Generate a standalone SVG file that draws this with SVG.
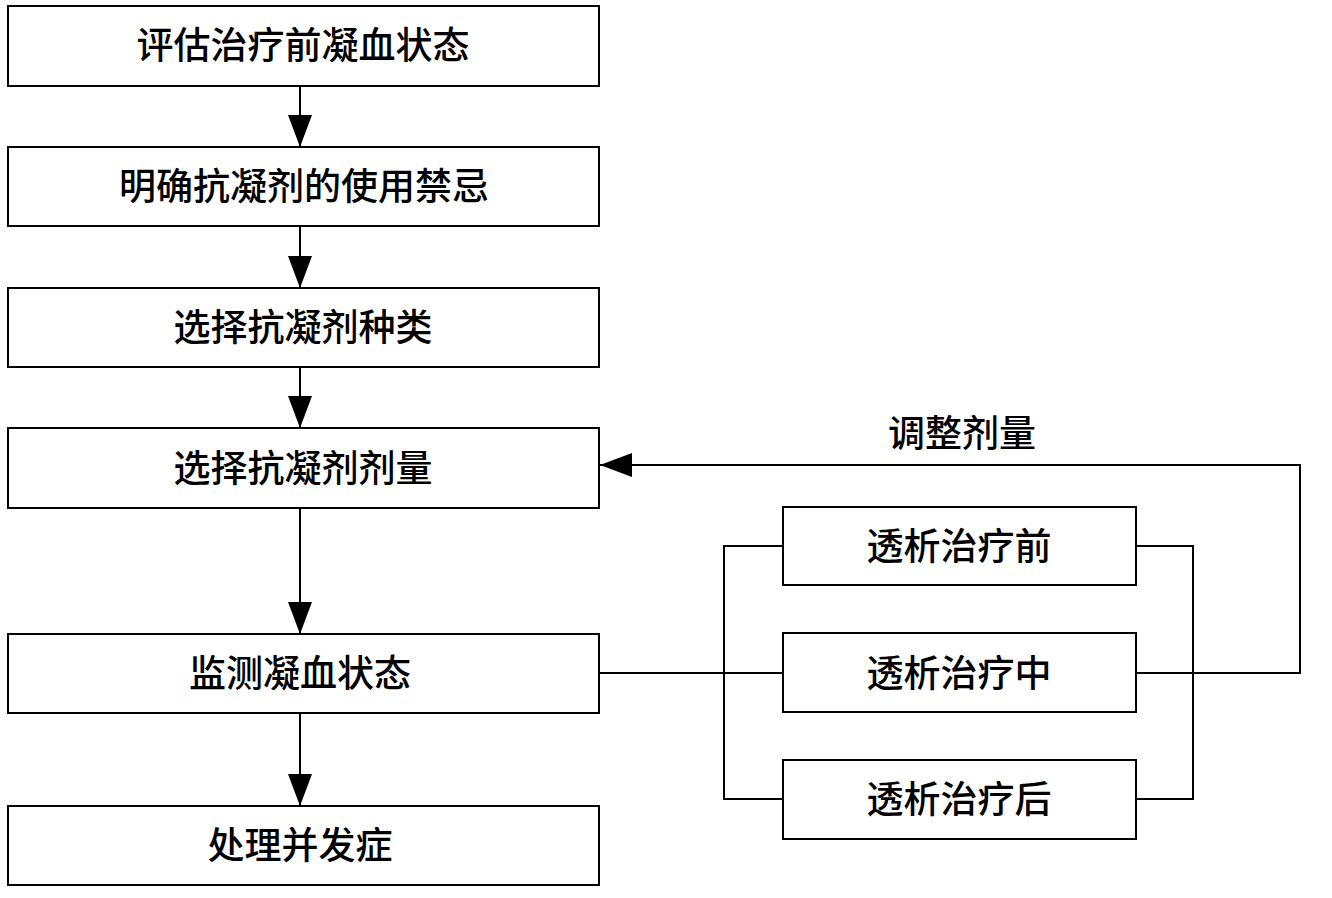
<svg xmlns="http://www.w3.org/2000/svg" width="1332" height="898" viewBox="0 0 1332 898">
<style>
.box{fill:#fff;stroke:#000;stroke-width:2}
.t{font-family:"Noto Sans CJK SC","Noto Sans",sans-serif;font-size:37px;font-weight:500;fill:#000;text-anchor:middle}
.ln{fill:none;stroke:#000;stroke-width:2}
</style>
<defs>
<marker id="ah" markerWidth="32" markerHeight="24" refX="32" refY="12" orient="auto" markerUnits="userSpaceOnUse" viewBox="0 0 32 24">
<path d="M0,0 L32,12 L0,24 Z" fill="#000"/>
</marker>
</defs>
<g id="connectors">
<line class="ln" x1="300" y1="86" x2="300" y2="147" marker-end="url(#ah)"/>
<line class="ln" x1="300" y1="226" x2="300" y2="288" marker-end="url(#ah)"/>
<line class="ln" x1="300" y1="367" x2="300" y2="428" marker-end="url(#ah)"/>
<line class="ln" x1="300" y1="508" x2="300" y2="634" marker-end="url(#ah)"/>
<line class="ln" x1="300" y1="713" x2="300" y2="806" marker-end="url(#ah)"/>
<line class="ln" x1="599" y1="673" x2="783" y2="673"/>
<polyline class="ln" points="783,546 724,546 724,799 783,799"/>
<polyline class="ln" points="1136,546 1193,546 1193,799 1136,799"/>
<polyline class="ln" points="1136,673 1300,673 1300,465 600,465" marker-end="url(#ah)"/>
<text class="t" x="962" y="447">调整剂量</text>
</g>
<g id="n1"><rect class="box" x="8" y="6" width="591" height="80"/><text class="t" x="303" y="59">评估治疗前凝血状态</text></g>
<g id="n2"><rect class="box" x="8" y="147" width="591" height="79"/><text class="t" x="304" y="200">明确抗凝剂的使用禁忌</text></g>
<g id="n3"><rect class="box" x="8" y="288" width="591" height="79"/><text class="t" x="303" y="341">选择抗凝剂种类</text></g>
<g id="n4"><rect class="box" x="8" y="428" width="591" height="80"/><text class="t" x="303" y="482">选择抗凝剂剂量</text></g>
<g id="n5"><rect class="box" x="8" y="634" width="591" height="79"/><text class="t" x="300" y="687">监测凝血状态</text></g>
<g id="n6"><rect class="box" x="8" y="806" width="591" height="79"/><text class="t" x="300" y="859">处理并发症</text></g>
<g id="nA"><rect class="box" x="783" y="507" width="353" height="78"/><text class="t" x="959" y="560">透析治疗前</text></g>
<g id="nB"><rect class="box" x="783" y="633" width="353" height="79"/><text class="t" x="959" y="687">透析治疗中</text></g>
<g id="nC"><rect class="box" x="783" y="760" width="353" height="79"/><text class="t" x="959" y="813">透析治疗后</text></g>
</svg>
